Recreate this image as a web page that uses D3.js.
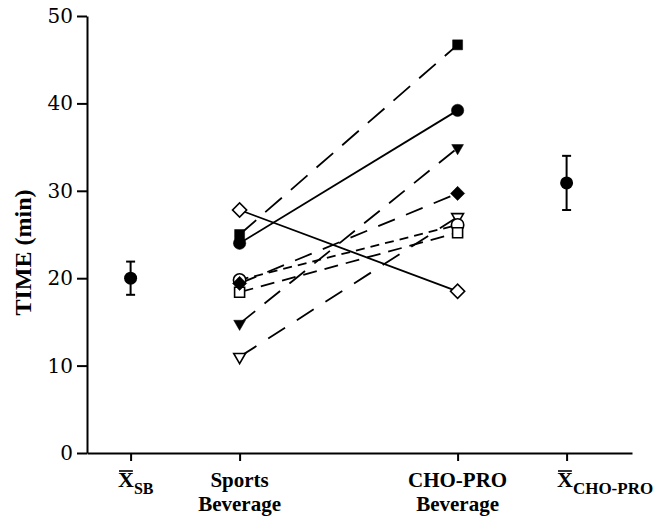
<!DOCTYPE html>
<html>
<head>
<meta charset="utf-8">
<script src="https://cdn.jsdelivr.net/npm/d3@7"></script>
<style>
  body { margin: 0; background: #fff; }
  svg { display: block; }
  .tick text { font-family: "DejaVu Serif", serif; font-size: 20px; }
  .lbl { font-family: "Liberation Serif", "Times New Roman", serif; font-weight: bold; }
</style>
</head>
<body>
<div id="chart"></div>
<script>
// x positions of the four conditions (in condition units)
const conditions = ["meanSB", "Sports Beverage", "CHO-PRO Beverage", "meanCHO"]
const conditionPos = [1, 2, 4, 5]

// individual subjects: time (min) on each beverage
const subjects = ["sqFilled", "circleFilled", "diamondOpen", "triFilled", "triOpen", "diamondFilled", "circleOpen", "sqOpen"]
const sportsValues = [25.0, 24.0, 27.8, 14.8, 11.0, 19.4, 19.8, 18.4]
const choProValues = [46.7, 39.2, 18.5, 34.9, 27.0, 29.7, 26.1, 25.2]

// group means and error
const means = [20.0, 30.9]
const meanErr = [1.9, 3.1]

const yTicks = [0, 10, 20, 30, 40, 50]

// marker / line style per subject
const style = {
  sqFilled:      { shape: "square",   fill: true,  dash: "22,12" },
  circleFilled:  { shape: "circle",   fill: true,  dash: null },
  diamondOpen:   { shape: "diamond",  fill: false, dash: null },
  triFilled:     { shape: "triangle", fill: true,  dash: "20,12" },
  triOpen:       { shape: "triangle", fill: false, dash: "20,14" },
  diamondFilled: { shape: "diamond",  fill: true,  dash: "18,12" },
  circleOpen:    { shape: "circle",   fill: false, dash: "9,6" },
  sqOpen:        { shape: "square",   fill: false, dash: "14,8" }
}

const width = 669, height = 519

const svg = d3.select("#chart").append("svg")
  .attr("width", width)
  .attr("height", height)

const x = d3.scaleLinear().domain([0.6, 5.6]).range([87, 632])
const y = d3.scaleLinear().domain([0, 50]).range([453, 16])

// y axis
const yAxis = svg.append("g")
  .attr("transform", `translate(${x(0.6)},0)`)
  .call(d3.axisLeft(y).tickValues(yTicks).tickSize(10).tickPadding(4).tickSizeOuter(0))
yAxis.select(".domain").attr("stroke-width", 2)
yAxis.selectAll(".tick line").attr("stroke-width", 2)
yAxis.selectAll(".tick text").attr("font-family", null).attr("font-size", null).attr("fill", "#000")

// x axis
const xAxis = svg.append("g")
  .attr("transform", `translate(0,${y(0)})`)
  .call(d3.axisBottom(x).tickValues(conditionPos).tickSize(8).tickFormat("").tickSizeOuter(0))
xAxis.select(".domain").attr("stroke-width", 2)
xAxis.selectAll(".tick line").attr("stroke-width", 2)

// y label
svg.append("text")
  .attr("class", "lbl")
  .attr("transform", `translate(31,${(y(0) + y(50)) / 2 + 18}) rotate(-90)`)
  .attr("text-anchor", "middle")
  .attr("font-size", 24)
  .text("TIME (min)")

// x labels
function twoLine(cx, l1, l2) {
  const t = svg.append("text").attr("class", "lbl").attr("text-anchor", "middle").attr("font-size", 21)
  t.append("tspan").attr("x", cx).attr("y", 487).text(l1)
  t.append("tspan").attr("x", cx).attr("y", 511).text(l2)
}
twoLine(x(2), "Sports", "Beverage")
twoLine(x(4), "CHO-PRO", "Beverage")

function meanLabel(xLeft, sub, subSize) {
  const g = svg.append("g")
  const xt = g.append("text").attr("class", "lbl")
    .attr("x", xLeft).attr("y", 487).attr("font-size", 22).text("X")
  const w = xt.node().getComputedTextLength()
  g.append("line")
    .attr("x1", xLeft + 1).attr("x2", xLeft + w - 1)
    .attr("y1", 471).attr("y2", 471)
    .attr("stroke", "#000").attr("stroke-width", 1.6)
  g.append("text").attr("class", "lbl")
    .attr("x", xLeft + w).attr("y", 494).attr("font-size", subSize).text(sub)
}
meanLabel(118, "SB", 16)
meanLabel(557, "CHO-PRO", 17)

// subject lines
const lineData = subjects.map((s, i) => ({ id: s, a: sportsValues[i], b: choProValues[i] }))

svg.append("g").selectAll("line")
  .data(lineData)
  .join("line")
    .attr("x1", x(conditionPos[1]))
    .attr("y1", d => y(d.a))
    .attr("x2", x(conditionPos[2]))
    .attr("y2", d => y(d.b))
    .attr("stroke", "#000")
    .attr("stroke-width", 1.8)
    .attr("stroke-dasharray", d => style[d.id].dash)

// markers
const symbolFor = {
  square: d3.symbol(d3.symbolSquare, 100),
  circle: d3.symbol(d3.symbolCircle, 120),
  diamond: d3.symbol(d3.symbolSquare, 100),
  triangle: d3.symbol(d3.symbolTriangle, 60)
}
const rotFor = { square: 0, circle: 0, diamond: 45, triangle: 180 }

const pts = []
lineData.forEach(d => {
  pts.push({ id: d.id, pos: conditionPos[1], v: d.a })
  pts.push({ id: d.id, pos: conditionPos[2], v: d.b })
})
// filled markers drawn last so they show through the open ones
pts.sort((p, q) => (style[p.id].fill ? 1 : 0) - (style[q.id].fill ? 1 : 0))

svg.append("g").selectAll("path")
  .data(pts)
  .join("path")
    .attr("d", d => symbolFor[style[d.id].shape]())
    .attr("transform", d => `translate(${x(d.pos)},${y(d.v)}) rotate(${rotFor[style[d.id].shape]})`)
    .attr("fill", d => style[d.id].fill ? "#000" : "#fff")
    .attr("stroke", "#000")
    .attr("stroke-width", d => style[d.id].fill ? 0.5 : 1.6)

// means with error bars
const meanData = means.map((m, i) => ({ pos: [conditionPos[0], conditionPos[3]][i], m, e: meanErr[i] }))
const mg = svg.append("g").selectAll("g").data(meanData).join("g")
mg.append("line")
  .attr("x1", d => x(d.pos)).attr("x2", d => x(d.pos))
  .attr("y1", d => y(d.m + d.e)).attr("y2", d => y(d.m - d.e))
  .attr("stroke", "#000").attr("stroke-width", 2)
mg.selectAll(".cap")
  .data(d => [d.m + d.e, d.m - d.e].map(v => ({ pos: d.pos, v })))
  .join("line")
    .attr("x1", d => x(d.pos) - 4.5).attr("x2", d => x(d.pos) + 4.5)
    .attr("y1", d => y(d.v)).attr("y2", d => y(d.v))
    .attr("stroke", "#000").attr("stroke-width", 2)
mg.append("circle")
  .attr("cx", d => x(d.pos)).attr("cy", d => y(d.m))
  .attr("r", 6.5).attr("fill", "#000")
</script>
</body>
</html>
